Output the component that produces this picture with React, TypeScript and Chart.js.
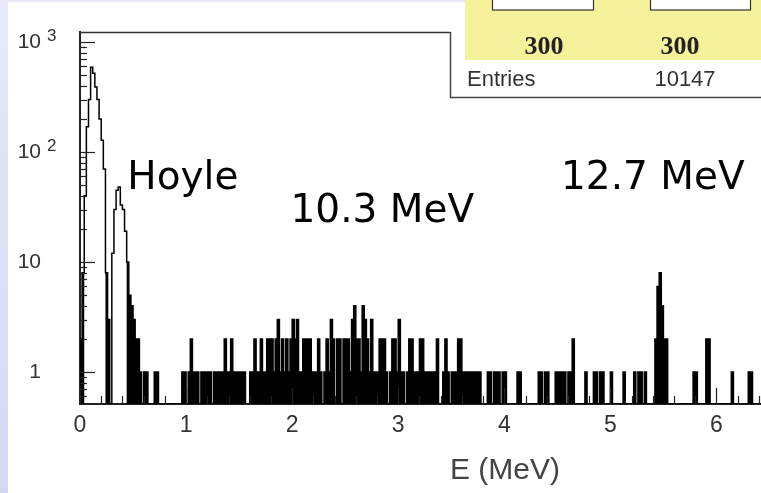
import React, { useEffect, useRef } from 'react';
import { Chart, registerables } from 'chart.js';

Chart.register(...registerables);

// ---- Data (histogram, 0.02 MeV bins) ----
const BIN_WIDTH = 0.02; // MeV
// counts per bin, grouped by MeV interval
const countsMeV0 = [
  2, 8, 40, 170, 300, 590, 520, 390, 300, 200,
  128, 70, 8, 3, 0, 12, 30, 45, 48, 33,
  30, 19, 10, 5, 4, 3, 2, 2, 1, 0,
  1, 1, 0, 0, 0, 1, 1, 0, 0, 0,
  0, 0, 0, 0, 0, 0, 0, 0, 1, 1,
];
const countsMeV1 = [
  0, 1, 2, 1, 1, 1, 0, 1, 1, 1,
  1, 1, 0, 1, 1, 1, 1, 1, 2, 1,
  1, 2, 1, 1, 1, 1, 1, 1, 0, 0,
  1, 1, 2, 1, 1, 2, 1, 1, 2, 2,
  2, 1, 2, 3, 1, 2, 1, 2, 1, 2,
];
const countsMeV2 = [
  3, 2, 3, 1, 1, 2, 2, 2, 2, 1,
  1, 1, 2, 1, 0, 1, 2, 1, 3, 2,
  0, 2, 2, 0, 2, 2, 2, 1, 3, 4,
  2, 2, 1, 4, 3, 2, 1, 3, 1, 1,
  1, 2, 2, 2, 1, 0, 1, 2, 2, 1,
];
const countsMeV3 = [
  3, 1, 1, 0, 1, 2, 2, 1, 1, 1,
  2, 2, 1, 1, 1, 1, 1, 1, 2, 0,
  0, 1, 2, 1, 0, 1, 1, 1, 2, 2,
  1, 1, 1, 1, 1, 1, 1, 1, 1, 0,
  0, 0, 1, 1, 0, 1, 1, 1, 0, 1,
];
const countsMeV4 = [
  1, 0, 0, 0, 0, 0, 1, 1, 0, 0,
  0, 0, 0, 0, 0, 0, 1, 1, 0, 1,
  1, 0, 0, 0, 1, 1, 1, 1, 1, 0,
  1, 1, 2, 0, 0, 0, 0, 0, 1, 0,
  0, 0, 1, 1, 0, 1, 1, 0, 0, 0,
];
const countsMeV5 = [
  1, 0, 0, 0, 0, 0, 1, 0, 0, 0,
  0, 1, 0, 1, 1, 0, 1, 0, 0, 0,
  0, 2, 6, 8, 4, 2, 2, 0, 0, 0,
  0, 0, 0, 0, 0, 0, 0, 0, 0, 1,
  1, 0, 0, 0, 0, 2, 2, 0, 0, 0,
];
const countsMeV6 = [
  0, 0, 0, 0, 0, 0, 0, 1, 0, 0,
  0, 0, 0, 0, 0, 1, 1, 0, 0, 0,
  0,
];

// ---- Axis / tick definitions ----
const X_MIN = 0;
const X_MAX = 6.42;
const Y_MIN = 0.512;
const Y_MAX = 1233;
const xTickValues = [0, 1, 2, 3, 4, 5, 6];
const xTickLabels = ['0', '1', '2', '3', '4', '5', '6'];
const xMinorStep = 0.2;
const yTickValues = [1, 10, 100, 1000];
const yTickLabels = ['1', '10', '10', '10'];
const yTickExponents = ['', '', '2', '3'];
const xTitle = 'E (MeV)';

// Annotation anchors in data coordinates (E in MeV, counts)
const annotationTexts = ['Hoyle', '10.3 MeV', '12.7 MeV'];
const annotationE = [0.97, 2.85, 5.40];
const annotationCount = [46, 23, 46];

// Statistics box text
const statHeaders = ['300', '300'];
const statLabel = 'Entries';
const statValue = '10147';

const FILL_MAX = 10; // low-count bins render as solid strokes

const counts: number[] = [
  ...countsMeV0, ...countsMeV1, ...countsMeV2, ...countsMeV3,
  ...countsMeV4, ...countsMeV5, ...countsMeV6,
];

export default function App() {
  const canvasRef = useRef<HTMLCanvasElement | null>(null);

  useEffect(() => {
    const canvas = canvasRef.current;
    if (!canvas) return;

    const outlinePoints = counts.map((c, i) => ({ x: i * BIN_WIDTH, y: c > 0 ? c : Y_MIN }));
    outlinePoints.push({ x: counts.length * BIN_WIDTH, y: Y_MIN });
    const fillPoints = counts.map((c, i) => ({
      x: i * BIN_WIDTH,
      y: c > 0 && c <= FILL_MAX ? c : Y_MIN,
    }));
    fillPoints.push({ x: counts.length * BIN_WIDTH, y: Y_MIN });

    const bgPlugin = {
      id: 'bg',
      beforeDraw(chart: any) {
        const ctx = chart.ctx;
        const w = chart.width, h = chart.height;
        ctx.save();
        const g = ctx.createLinearGradient(0, 0, 0, h);
        g.addColorStop(0, '#e8e9f8');
        g.addColorStop(1, '#d5d8f2');
        ctx.fillStyle = g;
        ctx.fillRect(0, 0, w, h);
        ctx.fillStyle = '#ffffff';
        ctx.fillRect(8, 2, w - 8, h - 2);
        ctx.restore();
      },
    };

    const overlayPlugin = {
      id: 'overlay',
      afterDraw(chart: any) {
        const ctx = chart.ctx;
        const xS = chart.scales.x;
        const yS = chart.scales.y;
        const { left, top, bottom } = chart.chartArea;
        ctx.save();

        // inward ticks on y axis (log)
        ctx.strokeStyle = '#222';
        ctx.lineWidth = 1.2;
        for (const dec of [0.1, 1, 10, 100, 1000]) {
          for (let m = 1; m <= 9; m++) {
            const v = dec * m;
            if (v < Y_MIN || v > Y_MAX) continue;
            const y = Math.round(yS.getPixelForValue(v)) + 0.5;
            const len = m === 1 ? 15 : 7;
            ctx.beginPath();
            ctx.moveTo(left, y);
            ctx.lineTo(left + len, y);
            ctx.stroke();
          }
        }
        // inward ticks on x axis
        for (let k = 0; k * xMinorStep <= X_MAX + 1e-9; k++) {
          const v = k * xMinorStep;
          const x = Math.round(xS.getPixelForValue(v)) + 0.5;
          const len = k % 5 === 0 ? 16 : 8;
          ctx.beginPath();
          ctx.moveTo(x, bottom);
          ctx.lineTo(x, bottom - len);
          ctx.stroke();
        }

        // frame top line (up to stat box)
        ctx.strokeStyle = '#333';
        ctx.lineWidth = 1.5;
        ctx.beginPath();
        ctx.moveTo(left, top + 0.5);
        ctx.lineTo(450, top + 0.5);
        ctx.stroke();

        // superscripts for y labels
        ctx.fillStyle = '#333';
        ctx.font = '17px "Liberation Sans"';
        ctx.textAlign = 'left';
        ctx.textBaseline = 'middle';
        yTickValues.forEach((v, i) => {
          if (!yTickExponents[i]) return;
          ctx.fillText(yTickExponents[i], 47, yS.getPixelForValue(v) - 6);
        });

        // x axis title
        ctx.fillStyle = '#444';
        ctx.font = '30px "Liberation Sans"';
        ctx.textAlign = 'center';
        ctx.textBaseline = 'alphabetic';
        ctx.fillText(xTitle, 505, 479);

        // annotations
        ctx.fillStyle = '#000';
        ctx.font = '39px "DejaVu Sans"';
        ctx.textAlign = 'center';
        ctx.textBaseline = 'alphabetic';
        annotationTexts.forEach((t, i) => {
          ctx.fillText(t, xS.getPixelForValue(annotationE[i]), yS.getPixelForValue(annotationCount[i]));
        });

        // stat box
        ctx.fillStyle = '#ffffff';
        ctx.fillRect(451, 33, 310, 64);
        ctx.fillStyle = '#f6f19b';
        ctx.fillRect(465, 0, 296, 60);
        ctx.fillStyle = '#ffffff';
        ctx.strokeStyle = '#333';
        ctx.lineWidth = 1.2;
        ctx.fillRect(492, -2, 101, 12);
        ctx.strokeRect(492.5, -2, 101, 12);
        ctx.fillRect(650, -2, 100, 12);
        ctx.strokeRect(650.5, -2, 100, 12);

        ctx.fillStyle = '#222';
        ctx.font = 'bold 26px "Liberation Serif"';
        ctx.textAlign = 'center';
        ctx.textBaseline = 'middle';
        ctx.fillText(statHeaders[0], 544, 47);
        ctx.fillText(statHeaders[1], 680, 47);

        ctx.fillStyle = '#333';
        ctx.font = '22px "Liberation Sans"';
        ctx.textAlign = 'left';
        ctx.fillText(statLabel, 467, 80);
        ctx.textAlign = 'center';
        ctx.fillText(statValue, 685, 80);

        ctx.strokeStyle = '#444';
        ctx.lineWidth = 1.5;
        ctx.beginPath();
        ctx.moveTo(450.5, top);
        ctx.lineTo(450.5, 97.5);
        ctx.lineTo(chart.width, 97.5);
        ctx.stroke();

        ctx.restore();
      },
    };

    const chart = new Chart(canvas, {
      type: 'line',
      data: {
        datasets: [
          {
            data: outlinePoints,
            borderColor: '#000',
            borderWidth: 1.5,
            pointRadius: 0,
            stepped: true,
            fill: false,
            tension: 0,
            order: 0,
          } as any,
          {
            data: fillPoints,
            borderColor: 'rgba(0,0,0,0)',
            borderWidth: 0,
            backgroundColor: '#000',
            pointRadius: 0,
            stepped: true,
            fill: 'start',
            tension: 0,
            order: 1,
          } as any,
        ],
      },
      options: {
        animation: false,
        responsive: false,
        devicePixelRatio: 1,
        layout: { autoPadding: false, padding: { top: 32, left: 0, right: 0, bottom: 0 } },
        plugins: {
          legend: { display: false },
          tooltip: { enabled: false },
          title: { display: false },
          filler: { propagate: false },
        },
        scales: {
          x: {
            type: 'linear',
            min: X_MIN,
            max: X_MAX,
            offset: false,
            grid: { display: false, drawTicks: false },
            border: { display: true, color: '#222', width: 2 },
            afterBuildTicks: (s: any) => {
              s.ticks = xTickValues.map((v) => ({ value: v }));
            },
            ticks: {
              autoSkip: false,
              maxRotation: 0,
              padding: 8,
              color: '#333',
              font: { family: 'Liberation Sans', size: 23 },
              callback: (_v: any, i: number) => xTickLabels[i],
            },
            afterFit: (s: any) => {
              s.height = 89;
              s.paddingLeft = 0;
              s.paddingRight = 0;
            },
          },
          y: {
            type: 'logarithmic',
            min: Y_MIN,
            max: Y_MAX,
            grid: { display: false, drawTicks: false },
            border: { display: true, color: '#222', width: 2 },
            afterBuildTicks: (s: any) => {
              s.ticks = yTickValues.map((v) => ({ value: v }));
            },
            ticks: {
              autoSkip: false,
              padding: 39,
              color: '#333',
              font: { family: 'Liberation Sans', size: 21 },
              callback: (v: any) => {
                const i = yTickValues.indexOf(Number(v));
                return i >= 0 ? yTickLabels[i] : '';
              },
            },
            afterFit: (s: any) => {
              s.width = 80;
              s.paddingTop = 0;
              s.paddingBottom = 0;
            },
          },
        },
      } as any,
      plugins: [bgPlugin, overlayPlugin],
    });

    return () => {
      chart.destroy();
    };
  }, []);

  return (
    <div style={{ position: 'fixed', left: 0, top: 0, width: 761, height: 493 }}>
      <canvas ref={canvasRef} width={761} height={493} style={{ display: 'block' }} />
    </div>
  );
}
